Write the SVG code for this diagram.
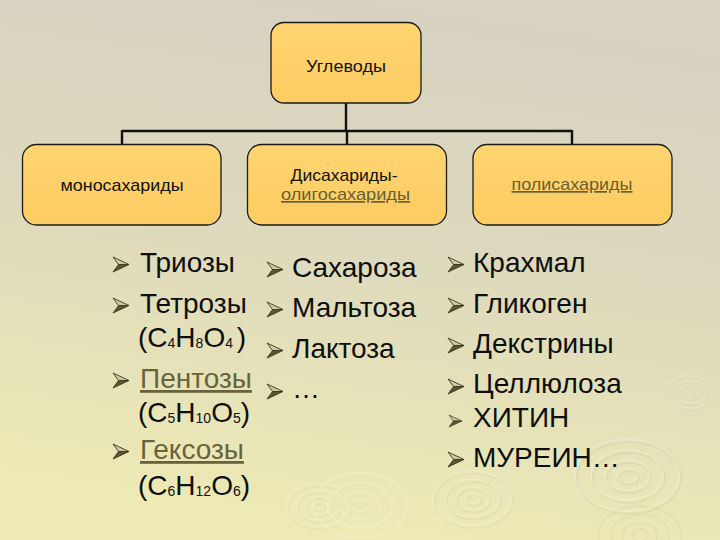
<svg xmlns="http://www.w3.org/2000/svg" width="720" height="540" viewBox="0 0 720 540">
  <defs>
    <linearGradient id="bg" x1="0.6" y1="0" x2="0.4" y2="1">
      <stop offset="0" stop-color="#D7D2C1"/>
      <stop offset="0.45" stop-color="#DDD9BD"/>
      <stop offset="1" stop-color="#EEEBB4"/>
    </linearGradient>
    <linearGradient id="boxg" x1="0" y1="0" x2="0" y2="1">
      <stop offset="0" stop-color="#FFD470"/>
      <stop offset="1" stop-color="#FDCC62"/>
    </linearGradient>
    <g id="bullet">
      <polygon points="0,0 16,7.5 5.5,7.5" fill="#CFC8A4" stroke="#3E3A22" stroke-width="0.9" stroke-linejoin="round"/>
      <polygon points="0,15 16,7.5 5.5,7.5" fill="#5C5530" stroke="#3E3A22" stroke-width="0.9" stroke-linejoin="round"/>
    </g>
    <g id="ripple">
      <ellipse cx="0" cy="0" rx="10" ry="7" fill="none"/>
      <ellipse cx="0" cy="0" rx="22" ry="15" fill="none"/>
      <ellipse cx="0" cy="0" rx="36" ry="25" fill="none"/>
      <ellipse cx="0" cy="0" rx="52" ry="36" fill="none"/>
    </g>
  </defs>
  <style>
    .box { fill: url(#boxg); stroke: #1A1A1A; stroke-width: 1.3; }
    .lbl { font-family: "Liberation Sans", Arial, sans-serif; font-size: 17px; fill: #111; text-anchor: middle; }
    .link { fill: #665F33; text-decoration: underline; }
    .item { font-family: "Liberation Sans", Arial, sans-serif; font-size: 28px; fill: #0E0E0E; }
    .ul { fill: #69633B; text-decoration: underline; }
    .sub { font-size: 14px; }
    .conn { stroke: #111; stroke-width: 2.4; fill: none; }
    .rip1 { stroke: #FFFFFF; stroke-opacity: 0.2; stroke-width: 2; }
    .rip2 { stroke: #8C8660; stroke-opacity: 0.1; stroke-width: 1.5; }
  </style>

  <rect x="0" y="0" width="720" height="540" fill="url(#bg)"/>

  <g id="background-ripples">
    <use href="#ripple" class="rip1" transform="translate(627,475)"/>
    <use href="#ripple" class="rip2" transform="translate(629,478)"/>
    <use href="#ripple" class="rip1" transform="translate(472,498) scale(0.75)"/>
    <use href="#ripple" class="rip2" transform="translate(474,501) scale(0.75)"/>
    <use href="#ripple" class="rip1" transform="translate(690,392) scale(0.45)"/>
    <use href="#ripple" class="rip2" transform="translate(691,394) scale(0.45)"/>
    <use href="#ripple" class="rip1" transform="translate(318,505) scale(0.6)"/>
    <use href="#ripple" class="rip2" transform="translate(320,508) scale(0.6)"/>
    <use href="#ripple" class="rip1" transform="translate(360,505) scale(0.9)"/>
    <use href="#ripple" class="rip2" transform="translate(640,535) scale(0.8)"/>
  </g>

  <g id="connectors">
    <path class="conn" d="M346,103 V131 M122,131 H572 M122,130 V144 M347,130 V144 M572,130 V144"/>
  </g>

  <g id="node-root">
    <rect class="box" x="271" y="22.5" width="150" height="80.5" rx="13"/>
    <text class="lbl" x="346" y="72" textLength="80" lengthAdjust="spacingAndGlyphs">Углеводы</text>
  </g>

  <g id="node-mono">
    <rect class="box" x="22.5" y="144.5" width="198.5" height="80.5" rx="14"/>
    <text class="lbl" x="122" y="191" textLength="123" lengthAdjust="spacingAndGlyphs">моносахариды</text>
  </g>

  <g id="node-di">
    <rect class="box" x="247.5" y="144.5" width="199" height="80.5" rx="14"/>
    <text class="lbl" x="344" y="181" textLength="107" lengthAdjust="spacingAndGlyphs">Дисахариды-</text>
    <text class="lbl link" x="345.5" y="200" textLength="129" lengthAdjust="spacingAndGlyphs">олигосахариды</text>
  </g>

  <g id="node-poly">
    <rect class="box" x="473" y="144.5" width="199" height="80.5" rx="14"/>
    <text class="lbl link" x="572" y="190" textLength="121" lengthAdjust="spacingAndGlyphs">полисахариды</text>
  </g>

  <g id="list-mono">
    <use href="#bullet" x="113" y="257"/>
    <text class="item" x="140" y="272">Триозы</text>
    <use href="#bullet" x="113" y="298"/>
    <text class="item" x="140" y="313">Тетрозы</text>
    <text class="item" x="138" y="347">(С<tspan class="sub" dy="1">4</tspan><tspan dy="-1">Н</tspan><tspan class="sub" dy="1">8</tspan><tspan dy="-1">О</tspan><tspan class="sub" dy="1">4 </tspan><tspan dy="-1">)</tspan></text>
    <use href="#bullet" x="113" y="373"/>
    <text class="item ul" x="140" y="388">Пентозы</text>
    <text class="item" x="138" y="422">(С<tspan class="sub" dy="1">5</tspan><tspan dy="-1">Н</tspan><tspan class="sub" dy="1">10</tspan><tspan dy="-1">О</tspan><tspan class="sub" dy="1">5</tspan><tspan dy="-1">)</tspan></text>
    <use href="#bullet" x="113" y="444"/>
    <text class="item ul" x="140" y="459">Гексозы</text>
    <text class="item" x="138" y="495">(С<tspan class="sub" dy="1">6</tspan><tspan dy="-1">Н</tspan><tspan class="sub" dy="1">12</tspan><tspan dy="-1">О</tspan><tspan class="sub" dy="1">6</tspan><tspan dy="-1">)</tspan></text>
  </g>

  <g id="list-di">
    <use href="#bullet" x="267" y="262"/>
    <text class="item" x="292" y="277">Сахароза</text>
    <use href="#bullet" x="267" y="302"/>
    <text class="item" x="292" y="317">Мальтоза</text>
    <use href="#bullet" x="267" y="343"/>
    <text class="item" x="292" y="358">Лактоза</text>
    <use href="#bullet" x="267" y="384"/>
    <text class="item" x="292" y="398">…</text>
  </g>

  <g id="list-poly">
    <use href="#bullet" x="448" y="257"/>
    <text class="item" x="473" y="272">Крахмал</text>
    <use href="#bullet" x="448" y="298"/>
    <text class="item" x="473" y="313">Гликоген</text>
    <use href="#bullet" x="448" y="338"/>
    <text class="item" x="473" y="353">Декстрины</text>
    <use href="#bullet" x="448" y="379"/>
    <text class="item" x="473" y="393">Целлюлоза</text>
    <use href="#bullet" transform="translate(449,415) scale(0.8)"/>
    <text class="item" x="473" y="427" font-size="24">ХИТИН</text>
    <use href="#bullet" x="448" y="452"/>
    <text class="item" x="473" y="467">МУРЕИН…</text>
  </g>
</svg>
